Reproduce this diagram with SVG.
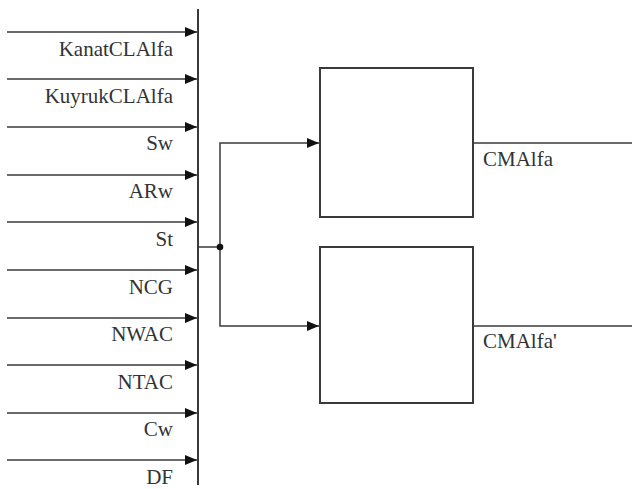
<svg xmlns="http://www.w3.org/2000/svg" width="632" height="489" viewBox="0 0 632 489">
<style>
.ln{stroke:#3a3a3a;stroke-width:1.5;fill:none}
.blk{stroke:#3a3a3a;stroke-width:2;fill:#fff}
.lbl{font-family:"Liberation Serif",serif;font-size:21px;fill:#333;text-anchor:end}
.out{font-family:"Liberation Serif",serif;font-size:21px;fill:#333}
</style>
<defs>
<marker id="ah" viewBox="0 0 12 10" refX="12" refY="5" markerWidth="12" markerHeight="10" markerUnits="userSpaceOnUse" orient="auto">
<path d="M0,0 L12,5 L0,10 z" fill="#111"/>
</marker>
</defs>
<g id="bus">
<line class="ln" x1="198" y1="9" x2="198" y2="485" style="stroke-width:2"/>
</g>
<g id="connectors">
<line class="ln" x1="7" y1="32" x2="197" y2="32" marker-end="url(#ah)"/>
<line class="ln" x1="7" y1="79" x2="197" y2="79" marker-end="url(#ah)"/>
<line class="ln" x1="7" y1="127" x2="197" y2="127" marker-end="url(#ah)"/>
<line class="ln" x1="7" y1="175" x2="197" y2="175" marker-end="url(#ah)"/>
<line class="ln" x1="7" y1="222" x2="197" y2="222" marker-end="url(#ah)"/>
<line class="ln" x1="7" y1="270" x2="197" y2="270" marker-end="url(#ah)"/>
<line class="ln" x1="7" y1="318" x2="197" y2="318" marker-end="url(#ah)"/>
<line class="ln" x1="7" y1="365" x2="197" y2="365" marker-end="url(#ah)"/>
<line class="ln" x1="7" y1="413" x2="197" y2="413" marker-end="url(#ah)"/>
<line class="ln" x1="7" y1="460" x2="197" y2="460" marker-end="url(#ah)"/>
<line class="ln" x1="198" y1="247" x2="220" y2="247"/>
<polyline class="ln" points="220,247 220,143 319,143" marker-end="url(#ah)"/>
<polyline class="ln" points="220,247 220,326 319,326" marker-end="url(#ah)"/>
<circle cx="220" cy="247" r="3.3" fill="#111"/>
<line class="ln" x1="473" y1="143" x2="632" y2="143"/>
<line class="ln" x1="473" y1="326" x2="632" y2="326"/>
</g>
<g id="labels">
<text class="lbl" x="173" y="56">KanatCLAlfa</text>
<text class="lbl" x="173" y="103">KuyrukCLAlfa</text>
<text class="lbl" x="173" y="150">Sw</text>
<text class="lbl" x="173" y="198">ARw</text>
<text class="lbl" x="173" y="246">St</text>
<text class="lbl" x="173" y="294">NCG</text>
<text class="lbl" x="173" y="341">NWAC</text>
<text class="lbl" x="173" y="389">NTAC</text>
<text class="lbl" x="173" y="436">Cw</text>
<text class="lbl" x="173" y="484">DF</text>
</g>
<g id="block1">
<rect class="blk" x="320" y="68" width="153" height="149"/>
<text class="out" x="483" y="166">CMAlfa</text>
</g>
<g id="block2">
<rect class="blk" x="320" y="247" width="153" height="156"/>
<text class="out" x="483" y="348">CMAlfa'</text>
</g>
</svg>
